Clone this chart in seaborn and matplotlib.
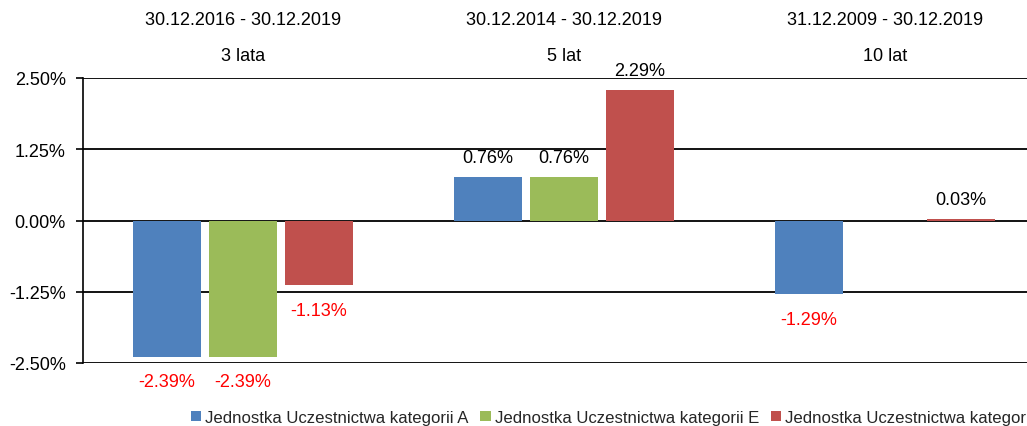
import numpy as np
import pandas as pd
import matplotlib
matplotlib.use("Agg")
import matplotlib.pyplot as plt
from matplotlib.patches import Patch
import seaborn as sns

# Return periods and their lengths
periods = ["30.12.2016 - 30.12.2019", "30.12.2014 - 30.12.2019", "31.12.2009 - 30.12.2019"]
lengths = ["3 lata", "5 lat", "10 lat"]

# Unit categories
series = [
    "Jednostka Uczestnictwa kategorii A",
    "Jednostka Uczestnictwa kategorii E",
    "Jednostka Uczestnictwa kategorii I",
]

# Annualised returns (%) per category, one value per period
values_A = [-2.39, 0.76, -1.29]
values_E = [-2.39, 0.76, np.nan]
values_I = [-1.13, 2.29, 0.03]

colors = ["#4F81BD", "#9BBB59", "#C0504D"]
yticks = [-2.50, -1.25, 0.00, 1.25, 2.50]

rows = []
for name, vals in zip(series, [values_A, values_E, values_I]):
    for p, v in zip(periods, vals):
        rows.append({"period": p, "series": name, "value": v})
df = pd.DataFrame(rows)

sns.set_theme(style="white")
plt.rcParams["font.family"] = ["Liberation Sans", "DejaVu Sans"]

fig = plt.figure(figsize=(10.27, 4.27), dpi=100)
W, H = 1027, 427
left, right, top, bottom = 82.5, 1045.5, 79, 364
ax = fig.add_axes([left / W, 1 - bottom / H, (right - left) / W, (bottom - top) / H])

sns.barplot(
    data=df, x="period", y="value", hue="series",
    order=periods, hue_order=series, palette=colors,
    width=0.71, gap=0.1, saturation=1, errorbar=None,
    legend=False, ax=ax, zorder=3, linewidth=0,
)

ax.set_xlim(-0.5, 2.5)
ax.set_ylim(-2.5, 2.5)
ax.set_yticks(yticks)
ax.set_yticklabels([f"{t:.2f}%" for t in yticks], fontsize=13, color="black")
ax.tick_params(axis="y", length=5, width=1.2, color="black", pad=7, left=True)

# Category labels above the plot: period and length on two lines
ax.xaxis.set_ticks_position("top")
ax.set_xticks(range(len(periods)))
ax.set_xticklabels([f"{p}\n{l}" for p, l in zip(periods, lengths)], fontsize=13, color="black")
for t in ax.get_xticklabels():
    t.set_linespacing(2.5)
ax.tick_params(axis="x", length=0, pad=10, top=True, bottom=False)
ax.set_xlabel("")
ax.set_ylabel("")

# Horizontal gridlines at every tick
for t in yticks:
    ax.axhline(t, color="black", lw=1.3, zorder=1)

for side in ["top", "right", "bottom"]:
    ax.spines[side].set_visible(False)
ax.spines["left"].set_color("black")
ax.spines["left"].set_linewidth(1.2)

# Value labels: black above positive bars, red below negative bars
for cont in ax.containers:
    for bar, v in zip(cont.patches, cont.datavalues):
        if np.isnan(v):
            continue
        x = bar.get_x() + bar.get_width() / 2
        if v >= 0:
            ax.annotate(f"{v:.2f}%", (x, v), xytext=(0, 8), textcoords="offset points",
                        ha="center", va="bottom", fontsize=13, color="black", zorder=5)
        else:
            ax.annotate(f"{v:.2f}%", (x, v), xytext=(0, -12), textcoords="offset points",
                        ha="center", va="top", fontsize=13, color="#FF0000", zorder=5)

handles = [Patch(facecolor=c, edgecolor="none") for c in colors]
fig.legend(
    handles, series, loc="upper left", bbox_to_anchor=(191 / W, 1 - 411 / H),
    ncol=3, frameon=False, fontsize=12.1, handlelength=0.6, handleheight=0.6,
    handletextpad=0.25, columnspacing=0.7, borderpad=0, borderaxespad=0,
)

fig.savefig("out.png", dpi=100)
